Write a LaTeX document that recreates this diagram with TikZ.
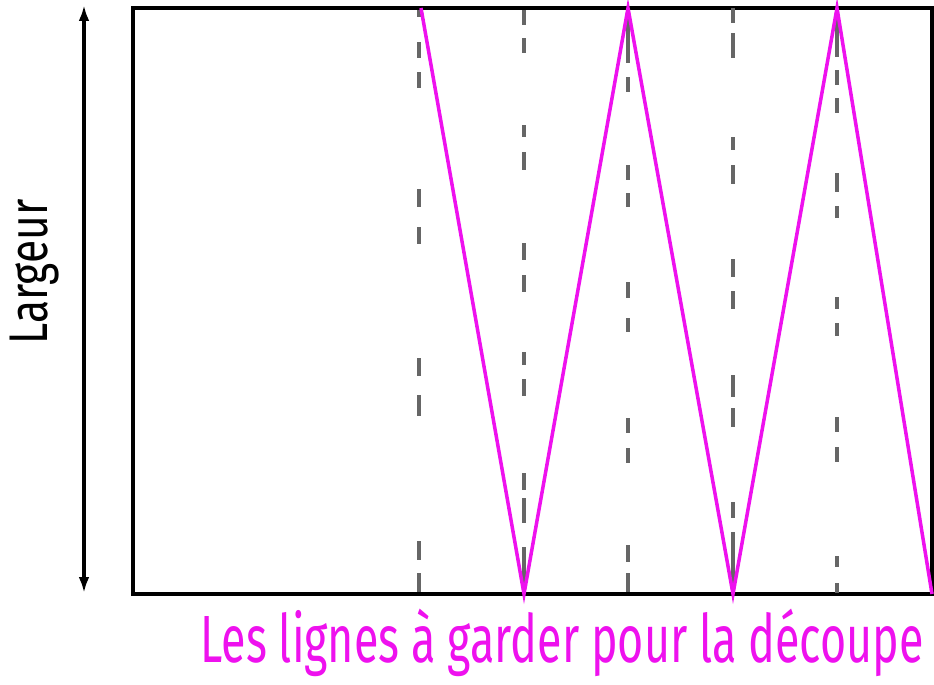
\documentclass[tikz,border=0pt]{standalone}
\usepackage{fontspec}
\setmainfont{Fira Sans}
\usetikzlibrary{arrows.meta}
\definecolor{rose}{HTML}{EE11EE}
\definecolor{gris}{HTML}{666666}

\begin{document}
\begin{tikzpicture}[x=0.02cm, y=-0.02cm,
    bord/.style={line width=2.1pt, black},
    coupe/.style={line width=2pt, rose},
    pli/.style={line width=2pt, gris}]
    \useasboundingbox (0,0) rectangle (934,684);

    % Draw strip
    \draw[bord] (133,8) rectangle (932,594);

    % Draw fold lines
    \foreach \a/\b in {10/17, 42/58, 72/88, 189/207, 227/244, 358/376, 395/416, 541/560, 573/592}
        \draw[pli] (419,\a) -- (419,\b);
    \foreach \a/\b in {10/25, 38/53, 125/137, 152/170, 243/260, 275/292, 352/365, 379/396, 473/490, 498/523, 547/593}
        \draw[pli] (524,\a) -- (524,\b);
    \foreach \a/\b in {10/63, 77/92, 165/180, 193/207, 282/298, 318/332, 418/433, 448/463, 545/562, 573/592}
        \draw[pli] (628,\a) -- (628,\b);
    \foreach \a/\b in {8/23, 33/58, 137/150, 165/184, 259/277, 291/309, 375/397, 408/427, 502/518, 532/590}
        \draw[pli] (733,\a) -- (733,\b);
    \foreach \a/\b in {10/57, 70/85, 98/113, 173/192, 206/218, 297/309, 323/336, 417/432, 447/462, 556/567, 583/593}
        \draw[pli] (837,\a) -- (837,\b);

    % Draw cutting line
    \coordinate (d1) at (421,8);
    \coordinate (b1) at (524,594);
    \coordinate (h1) at (628,8);
    \coordinate (b2) at (733,594);
    \coordinate (h2) at (837,8);
    \coordinate (b3) at (932,594);
    \draw[coupe] (d1) -- (b1) -- (h1) -- (b2) -- (h2) -- (b3);

    % Width arrow
    \coordinate (haut) at (84,5);
    \coordinate (bas) at (84,593);
    \draw[bord, {Latex[length=9pt,width=6pt]}-{Latex[length=9pt,width=6pt]}] (haut) -- (bas);

    % Labels
    \node[rotate=90, anchor=base, inner sep=0, font=\fontsize{31}{33}\selectfont] (largeur) at (48,272) {\scalebox{0.78}[1]{Largeur}};
    \node[anchor=base west, inner sep=0, rose, font=\fontsize{38}{40}\selectfont] (legende) at (200,662) {\scalebox{0.672}[1]{Les lignes à garder pour la découpe}};
\end{tikzpicture}
\end{document}
